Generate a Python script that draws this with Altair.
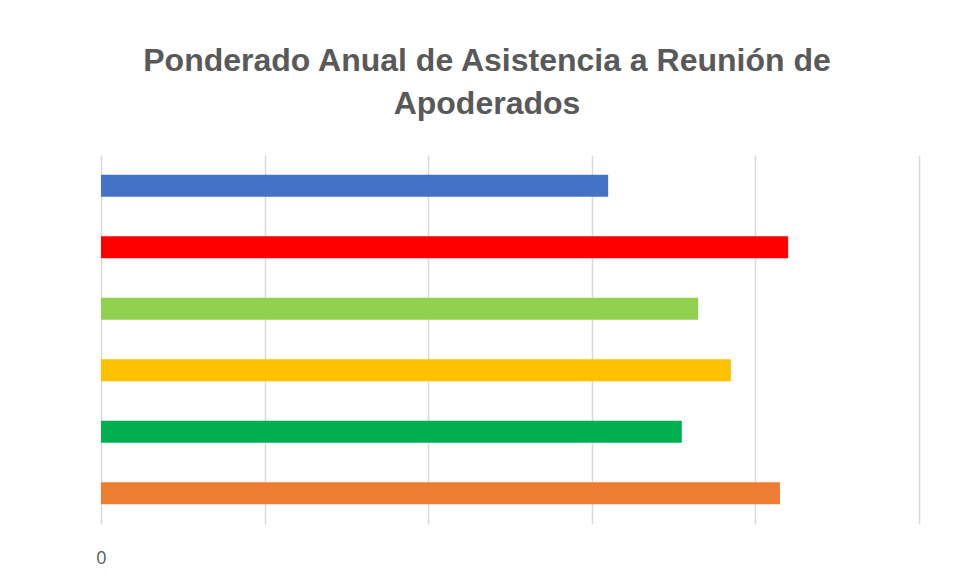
import altair as alt
import pandas as pd

categories = ["Serie 1", "Serie 2", "Serie 3", "Serie 4", "Serie 5", "Serie 6"]
values = [0.62, 0.84, 0.73, 0.77, 0.71, 0.83]
colors = ["#4472C4", "#FF0000", "#92D050", "#FFC000", "#00B050", "#ED7D31"]
tick_values = [0, 0.2, 0.4, 0.6, 0.8, 1.0]

df = pd.DataFrame({"cat": categories, "val": values, "color": colors})

chart = alt.Chart(df).mark_bar(size=22).encode(
    y=alt.Y("cat:N", sort=categories, axis=None,
            scale=alt.Scale(paddingInner=0.64, paddingOuter=0.32)),
    x=alt.X("val:Q", title=None,
            scale=alt.Scale(domain=[0, 1], nice=False),
            axis=alt.Axis(values=tick_values, grid=True, gridColor="#d9d9d9", gridWidth=1.5,
                          domain=False, ticks=False, labelFlush=False,
                          labelExpr="datum.value == 0 ? '0' : ''",
                          labelFont="Open Sans", labelFontSize=18, labelColor="#595959",
                          labelPadding=25)),
    color=alt.Color("color:N", scale=None, legend=None),
).properties(
    width=818, height=369,
    title=alt.TitleParams(
        ["Ponderado Anual de Asistencia a Reunión de", "Apoderados"],
        font="Liberation Sans", fontSize=32, fontWeight="bold", color="#595959",
        lineHeight=43, offset=34, anchor="middle", dx=-23),
    padding={"left": 87, "top": 37, "right": 20, "bottom": 10},
).configure_view(stroke=None)

chart.save("out.html", embed_options={"renderer": "svg", "actions": False})
